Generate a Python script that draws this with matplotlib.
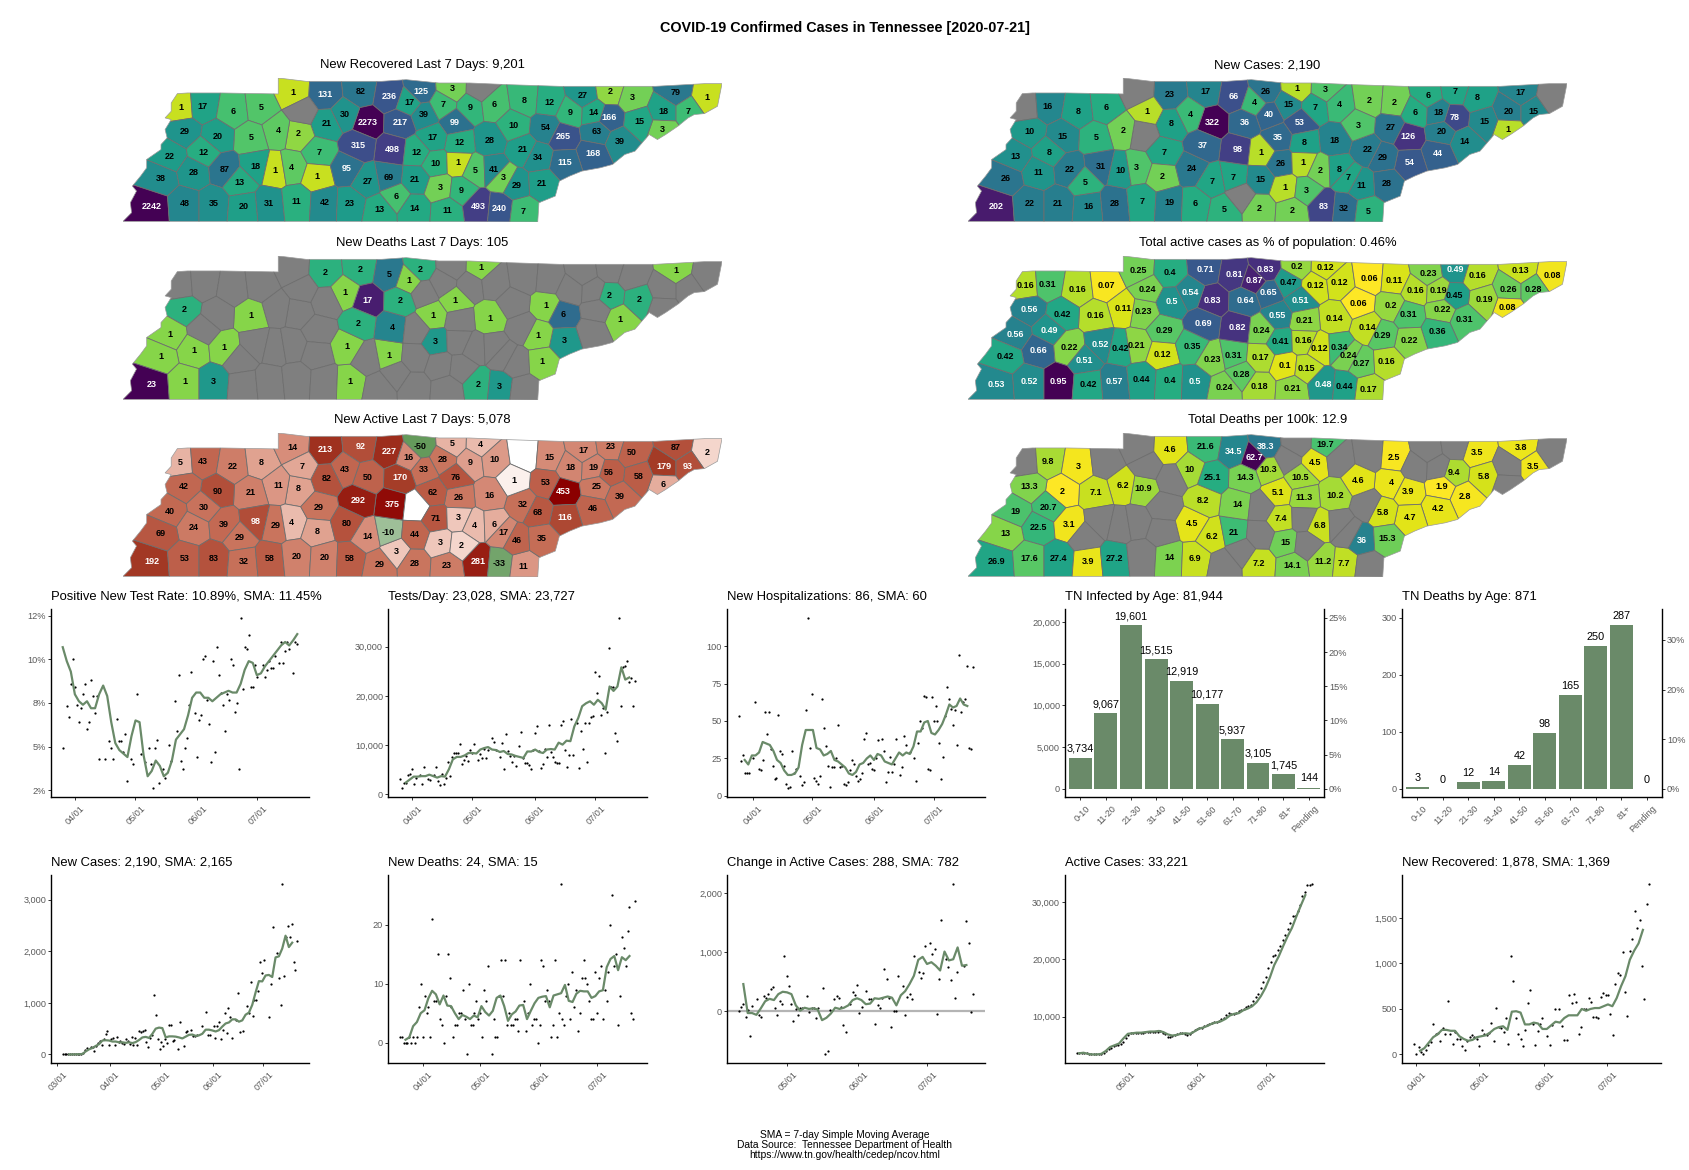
import numpy as np
import pandas as pd
import matplotlib
matplotlib.use('Agg')
import matplotlib.pyplot as plt
import matplotlib.dates as mdates
from matplotlib.collections import PolyCollection
from matplotlib.colors import LinearSegmentedColormap, LogNorm, Normalize
from matplotlib.patches import Polygon
from matplotlib.ticker import FuncFormatter
from matplotlib.transforms import ScaledTranslation

plt.rcParams['font.family'] = ['Liberation Sans', 'DejaVu Sans']

N = np.nan
W, H = 1690, 1170
GREEN = '#6a8a69'

# state outline and county label spots, in map units
outline_x = [190, 215, 300, 437, 437, 505, 600, 690, 750, 830, 905, 1000, 1125, 1360, 1480, 1523, 1512, 1480, 1455,
             1440, 1415, 1385, 1365, 1345, 1310, 1285, 1255, 1225, 1180, 1150, 1125, 1115, 1075, 1072, 600, 170, 57,
             78, 75, 90, 80, 100, 115, 115, 150, 150, 165, 160, 175, 160, 175, 175, 190]
outline_y = [162, 160, 160, 163, 115, 125, 125, 125, 120, 130, 130, 135, 140, 140, 132, 132, 200, 222, 225,
             235, 260, 285, 300, 285, 335, 345, 375, 385, 395, 410, 425, 470, 490, 548, 546, 546, 546,
             520, 490, 455, 440, 410, 385, 360, 330, 315, 295, 270, 240, 235, 215, 190, 162]

counties = ['Lake', 'Obion', 'Weakley', 'Henry', 'Stewart', 'Montgomery', 'Robertson', 'Sumner', 'Macon', 'Clay',
            'Pickett', 'Jackson', 'Overton', 'Fentress', 'Scott', 'Campbell', 'Claiborne', 'Hancock', 'Hawkins', 'Sullivan',
            'Johnson', 'Carter', 'Washington', 'Unicoi', 'Greene', 'Hamblen', 'Grainger', 'Union', 'Anderson', 'Knox',
            'Jefferson', 'Cocke', 'Sevier', 'Blount', 'Loudon', 'Roane', 'Morgan', 'Cumberland', 'Putnam', 'White',
            'DeKalb', 'Smith', 'Trousdale', 'Wilson', 'Davidson', 'Cheatham', 'Dickson', 'Humphreys', 'Houston', 'Benton',
            'Carroll', 'Gibson', 'Dyer', 'Crockett', 'Lauderdale', 'Haywood', 'Tipton', 'Madison', 'Henderson', 'Decatur',
            'Perry', 'Hickman', 'Lewis', 'Chester', 'Shelby', 'Fayette', 'Hardeman', 'McNairy', 'Hardin', 'Wayne',
            'Lawrence', 'Giles', 'Lincoln', 'Moore', 'Franklin', 'Marion', 'Hamilton', 'Bradley', 'Polk', 'Maury',
            'Marshall', 'Bedford', 'Rutherford', 'Williamson', 'Cannon', 'Warren', 'Coffee', 'Van Buren', 'Bledsoe', 'Grundy',
            'Sequatchie', 'Rhea', 'Meigs', 'McMinn', 'Monroe']
county_x = [198, 252, 326, 395, 473, 551, 638, 708, 785, 862,
            932, 840, 907, 965, 1040, 1100, 1183, 1250, 1303, 1410,
            1487, 1440, 1380, 1378, 1320, 1247, 1208, 1152, 1092, 1135,
            1217, 1273, 1207, 1138, 1072, 1035, 1013, 955, 870, 880,
            815, 793, 757, 735, 655, 600, 555, 485, 495, 436,
            370, 288, 207, 255, 172, 230, 149, 305, 382, 430,
            470, 537, 532, 343, 127, 208, 278, 352, 415, 482,
            550, 612, 685, 725, 770, 850, 927, 978, 1037, 605,
            655, 707, 717, 632, 775, 822, 772, 878, 918, 833,
            885, 965, 987, 1020, 1082]
county_y = [205, 200, 215, 205, 160, 165, 155, 170, 155, 148,
            150, 195, 203, 195, 182, 188, 167, 155, 175, 158,
            175, 215, 215, 270, 245, 235, 220, 218, 265, 292,
            277, 307, 343, 370, 353, 330, 257, 302, 248, 310,
            295, 225, 190, 250, 248, 225, 252, 282, 215, 272,
            295, 290, 275, 338, 350, 398, 418, 390, 380, 393,
            385, 340, 410, 428, 500, 493, 493, 500, 493, 485,
            490, 493, 510, 470, 507, 513, 500, 506, 515, 388,
            425, 413, 330, 317, 338, 372, 420, 370, 392, 445,
            452, 390, 415, 437, 433]

recovered_7d = [1, 17, 6, 5, 1, 131, 82, 236, 125, 3,
                N, 7, 9, 6, 8, 12, 27, 2, 3, 79,
                1, 7, 18, 3, 15, 166, 14, 9, 54, 265,
                63, 39, 168, 115, 34, 21, 10, 28, 99, 12,
                17, 39, 17, 217, 2273, 30, 21, 2, N, 4,
                5, 20, 29, 12, 22, 28, 38, 87, 18, 1,
                4, 7, 1, 13, 2242, 48, 35, 20, 31, 11,
                42, 23, 13, 6, 14, 11, 493, 240, 7, 95,
                27, 69, 498, 315, 12, 10, 21, 1, 5, 3,
                9, 41, 3, 29, 21]
deaths_7d = [N, N, N, N, N, 2, 2, 5, 2, N,
             1, N, N, N, N, N, N, N, N, 1,
             N, N, N, N, 2, 2, N, N, 1, 6,
             N, 1, N, 3, 1, N, N, 1, 1, N,
             1, N, 1, 2, 17, 1, N, N, N, N,
             1, N, 2, N, 1, 1, 1, 1, N, N,
             N, N, N, N, 23, 1, 3, N, N, N,
             N, 1, N, N, N, N, 2, 3, N, 1,
             N, 1, 4, 2, N, 3, N, N, N, N,
             N, N, N, N, 1]
active_7d = [5, 43, 22, 8, 14, 213, 92, 227, -50, 5,
             4, 28, 9, 10, N, 15, 17, 23, 50, 87,
             2, 93, 179, 6, 58, 56, 19, 18, 53, 453,
             25, 39, 46, 116, 68, 32, 1, 16, 76, 26,
             62, 33, 16, 170, 50, 43, 82, 8, 7, 11,
             21, 90, 42, 30, 40, 24, 69, 39, 98, 29,
             4, 29, 8, 29, 192, 53, 83, 32, 58, 20,
             20, 58, 29, 3, 28, 23, 281, -33, 11, 80,
             14, -10, 375, 292, N, 71, 44, 3, 4, 3,
             2, 6, 17, 46, 35]
new_cases = [N, 16, 8, 6, N, 23, 17, 66, 26, 1,
             3, 15, 7, 4, 2, 2, 6, 7, 8, 17,
             N, 15, 20, 1, 15, 78, 18, 6, 27, 126,
             20, 14, 44, 54, 29, 22, 3, 18, 53, 8,
             35, 40, 4, 36, 322, 4, 8, N, 1, 2,
             5, 15, 10, 8, 13, 11, 26, 22, 31, 10,
             3, 7, 2, 5, 202, 22, 21, 16, 28, 7,
             19, 6, 5, N, 2, 2, 83, 32, 5, 24,
             7, 7, 98, 37, 1, 26, 15, 1, 2, 1,
             3, 8, 7, 11, 28]
active_pct = [.16, .31, .16, .07, .25, .4, .71, .81, .83, .2,
              .12, .47, .12, .12, .06, .11, .23, .49, .16, .13,
              .08, .28, .26, .08, .19, .45, .19, .16, .2, .31,
              .22, .31, .36, .22, .29, .14, .06, .14, .51, .21,
              .55, .65, .87, .64, .83, .54, .5, .23, .24, .11,
              .16, .42, .56, .49, .56, .66, .42, .22, .52, .42,
              .21, .29, .12, .51, .53, .52, .95, .42, .57, .44,
              .4, .5, .24, .28, .18, .21, .48, .44, .17, .35,
              .23, .31, .82, .69, .24, .41, .17, .16, .12, .1,
              .15, .34, .24, .27, .16]
deaths_100k = [N, 9.8, 3, N, N, 4.6, 21.6, 34.5, 38.3, N,
               19.7, N, 4.5, N, N, 2.5, N, N, 3.5, 3.8,
               N, 3.5, N, N, 5.8, 9.4, N, N, 4, 3.9,
               1.9, 2.8, 4.2, 4.7, 5.8, N, 4.6, 10.2, 10.5, 11.3,
               5.1, 10.3, 62.7, 14.3, 25.1, 10, N, 10.9, N, 6.2,
               7.1, 2, 13.3, 20.7, 19, 22.5, 13, 3.1, N, N,
               N, N, N, N, 26.9, 17.6, 27.4, 3.9, 27.2, N,
               14, 6.9, N, N, 7.2, 14.1, 11.2, 7.7, N, 4.5,
               6.2, 21, 14, 8.2, N, 7.4, N, N, 6.8, 15,
               N, N, N, 36, 15.3]

# daily points and the moving average
rate = [4.9, N, 7.3, 6.7, 8.6, 10.0, 8.4, 7.4, 6.4, 7.2, 8.0, 8.6, 6.0, 6.4, 8.8, 7.9, 6.9, 7.9, 4.3, N, N, 4.3, N, 5.3,
        4.9, 4.3, N, 6.6, 5.3, 5.3, 4.7, 5.7, 3.0, N, 4.3, 4.0, N, 8.0, N, 4.6, N, 4.1, N, 4.9, 4.0, 2.6, 4.9, 5.4, 2.9,
        N, 3.7, 3.2, N, 5.1, 4.2, N, 7.6, 5.9, 9.1, 4.2, 3.7, 4.9, 5.5, 7.4, 9.3, N, 6.9, 4.4, 6.5, 6.8, 10.0, 10.2, 7.7,
        6.3, 4.1, 9.9, 4.7, 10.7, 9.1, 8.1, 7.4, 5.9, 8.0, 7.7, 10.0, 9.7, 7.0, 7.5, 3.7, 12.4, 8.3, 10.7, 10.6, 11.4,
        8.4, 8.4, 9.7, 9.0, N, N, 9.7, 9.0, 9.4, 9.9, 9.5, 9.5, 10.2, N, 9.8, 11.0, 9.8, 10.5, 11.0, 10.6, N, 9.2, 11.0, 10.89]
rate_sma = [10.7, 9.9, 9.3, 8.0, 7.6, 7.4, 7.6, 7.2, 7.2, 8.0, 8.5, 7.9, 6.4, 5.2, 4.8, 4.6, 4.4, 5.6, 6.5, 6.4, 4.5, 3.3,
            3.6, 4.2, 3.9, 3.3, 3.5, 4.2, 5.4, 5.7, 6.0, 6.8, 7.8, 8.1, 8.1, 7.8, 7.8, 7.6, 7.8, 8.0, 8.1, 8.2, 8.1, 8.1,
            8.6, 9.4, 9.9, 9.8, 9.1, 9.2, 9.6, 9.9, 10.2, 10.5, 10.8, 11.0, 10.8, 11.1, 11.45]
tests_k = [3.2, 1.2, 2.3, 2.3, 4.0, 4.1, 5.2, 2.2, 3.4, N, 4.0, 2.1, 5.6, N, 3.2, 3.0, N, 4.0, 5.5, 2.7, 2.0, 4.2, 2.2, 3.3,
           6.6, 3.7, 7.6, 8.3, 8.3, 8.3, 10.2, 6.2, 7.0, 7.8, 6.7, 9.1, 8.4, 10.2, N, 6.9, 8.1, 7.4, 9.2, 7.4, 9.1, N, 11.5,
           10.7, 9.1, N, 7.5, 10.5, 5.1, 12.3, 8.8, 7.8, 6.6, 7.8, 5.7, 9.9, 12.7, 7.3, 6.3, 6.4, 6.0, 5.1, 9.1, 12.5, 13.8,
           8.8, 5.4, 6.1, 9.2, 7.5, 14.1, 8.6, 7.5, 6.5, 6.3, 6.3, 14.0, 14.8, 9.1, 5.6, 7.9, 15.2, 7.9, N, 14.5, 5.4, 12.9,
           9.3, 14.4, 6.5, 14.4, 15.8, 16.0, 24.8, 20.6, 24.1, 16.2, 17.5, 8.4, 16.7, 29.8, 21.8, 21.8, 12.5, 10.9, 35.9,
           17.9, 25.8, 26.1, 27.0, 22.9, 23.6, 17.9, 23.028]
tests_sma_k = [2.4, 3.0, 3.6, 3.6, 3.7, 3.7, 4.0, 3.7, 3.4, 3.7, 3.6, 5.1, 7.1, 7.6, 7.6, 7.9, 8.4, 8.4, 8.3, 9.1, 9.4, 9.6,
               9.1, 9.0, 8.6, 8.8, 8.2, 8.1, 7.8, 7.6, 7.4, 8.7, 8.7, 9.1, 8.6, 8.4, 9.1, 9.2, 9.1, 10.5, 10.1, 10.9, 10.8,
               13.8, 15.5, 17.9, 18.5, 18.9, 18.2, 19.2, 18.5, 17.2, 21.9, 21.0, 21.9, 25.8, 23.3, 23.727]
hosp = [53, 23, 27, 15, 15, 15, N, 25, 63, N, 18, 17, 24, 56, 41, 56, 31, 20, 11, 12, 54, 30, 28, 20, 8, 5, 6, 30, 15, 18, N,
        13, 7, 9, 57, 119, 32, 68, 12, 10, 8, 13, 65, 45, 33, 20, 6, 19, 19, 25, 47, 19, 20, 8, 7, 9, 17, 24, 21, 13, 10, 11,
        15, 38, 42, 21, 22, 18, 17, 25, 37, N, 38, 30, 9, 16, 26, 16, 21, 38, N, 14, 19, 40, 34, N, 29, N, 25, 10, 35, 50, 45,
        67, 66, 18, 17, 66, 50, 60, 50, 35, 11, 26, 53, 73, 65, 58, 47, 57, 34, 94, 56, 63, 65, 87, 32, 31, 86]
hosp_sma = [24, 21, 27, 27, 29, 36, 35, 34, 30, 24, 22, 17, 14, 14, 15, 19, 34, 44, 44, 44, 32, 31, 27, 28, 30, 24, 23, 21,
            19, 15, 14, 16, 21, 22, 25, 27, 24, 28, 27, 23, 22, 21, 25, 29, 27, 29, 28, 33, 43, 43, 49, 50, 42, 41, 44, 48,
            54, 61, 59, 60, 65, 61, 60]
infected_ages = [3734, 9067, 19601, 15515, 12919, 10177, 5937, 3105, 1745, 144]
death_ages = [3, 0, 12, 14, 42, 98, 165, 250, 287, 0]
age_labels = ['0-10', '11-20', '21-30', '31-40', '41-50', '51-60', '61-70', '71-80', '81+', 'Pending']
cases = [N, N, 1, 1, 1, 2, 3, 3, 3, 5, 7, 8, 10, 30, 80, 130, N, 150, 150, 60, 160, 225, 260, 175, 300, 405, 450, 175, 300, 320,
         175, 340, 240, 265, 225, 210, 300, 265, 200, 335, 175, 320, 175, 450, 430, 455, 475, 250, 150, 320, 370, 1155, 770,
         290, 115, 250, 160, 300, 225, 565, 580, 265, 275, N, 110, 630, N, 160, 435, 445, N, 470, 355, 355, 385, N, N, 545, N,
         830, 385, 385, N, 545, 320, 560, 635, 290, 475, 800, 415, 900, 725, 320, N, 675, 1190, 435, N, 445, N, 930, 800, 1405,
         740, 1060, 1060, 1220, 1800, 1570, 1825, N, N, 720, 1360, 2465, N, 1960, 1475, 960, 3310, 1520, 2280, 2485, 2280, 2525,
         1785, 1640, 2190]
cases_sma = [0, 1, 3, 4, 10, 60, 100, 125, 165, 200, 270, 275, 270, 250, 250, 235, 235, 225, 235, 220, 240, 280, 330, 340, 320,
             400, 500, 520, 510, 330, 350, 350, 345, 330, 310, 345, 380, 385, 360, 370, 400, 480, 480, 465, 445, 470, 540, 600,
             620, 680, 680, 635, 660, 770, 810, 960, 1200, 1420, 1415, 1530, 1540, 1500, 1880, 1900, 2050, 2300, 2080, 2165]
deaths = [1, 1, 0, 0, 0, 1, 0, 1, 0, 1, 6, 10, 1, 8, 5, 6, 1, 21, 7, 7, 15, 4, 3, 0, 8, 15, 11, 6, 1, 3, 3, 5, 5, 9, 4, -2, 10,
          3, 3, 5, 7, 4, 5, 1, 9, 7, 13, N, -2, 4, 1, 1, 8, 14, 8, 14, 3, 5, 3, 3, 4, 4, 2, 14, N, 7, 2, 5, 10, 3, 4, 4, 0, 3, 14, 13,
          7, 9, 7, 1, 3, 14, 1, 5, 27, 4, 3, 8, 10, 4, 12, 6, 9, 2, 5, 11, 14, 11, 10, 7, 4, 4, 12, 5, 11, 13, 4, 9, 7, 12, 20, 25,
          13, 15, 3, 8, 18, 16, 13, 19, 23, 5, 4, 24]
deaths_sma = [.5, .9, 2.8, 3.5, 5, 5.5, 7.5, 8.8, 8.2, 6.5, 8, 6.3, 6.2, 5, 4, 4.7, 4.4, 4, 4.6, 4.3, 6.2, 5.2, 4.6, 5.4, 7.6, 8,
              6.2, 3.7, 4.8, 5.3, 6.3, 6.4, 4, 5.4, 6.7, 7.6, 7.8, 7.9, 6, 8, 8.2, 8.4, 9.8, 7.1, 6.9, 8.3, 8.8, 8.7, 8.7, 7.6,
              7.9, 8.7, 8.9, 12.8, 14.2, 14.7, 12.3, 14.5, 14.0, 14.7]
change = [10, 70, 130, -100, 20, -420, 90, N, 200, -70, -100, 250, 220, 290, 370, 410, 50, -70, 170, 120, 940, 600, 420, 120, -160,
          40, -60, 60, 50, N, 250, -10, 50, 50, -120, 60, N, 390, -730, -680, 30, N, 200, 250, 220, 80, -240, -350, N, 120, 320, 270,
          450, -30, 70, N, 340, 200, 210, N, -210, 100, 50, 230, 720, 550, 230, -270, 0, 0, 600, N, 430, -60, 240, 300, 200, 930,
          N, 660, 570, 650, 1110, N, 1160, 970, 1060, -50, 540, 1550, N, 880, 750, 530, 2160, 220, 670, N, N, 770, 1520, 1150, -20, 288]
change_sma = [460, -30, -30, -60, 50, 170, 210, 190, 290, 330, 320, 290, 100, 10, 60, 40, 50, 30, -150, -110, -40, 60, 40, 60, 100,
              190, 220, 190, 120, 130, 220, 210, 230, 250, 230, 100, 270, 340, 460, 600, 870, 920, 800, 830, 770, 690, 1010, 860,
              880, 1080, 770, 782]
active_k = [3.6, 3.6, 3.7, 3.7, 3.7, 3.5, 3.4, 3.4, 3.4, 3.4, 3.5, 3.7, 4.0, 4.3, 4.6, 4.9, 5.0, 5.0, 5.2, 5.6, 6.2, 6.8, 7.1, 7.1,
            7.1, 7.2, 7.2, 7.2, 7.3, 7.3, 7.4, 7.4, 7.4, 7.4, 7.5, 7.2, 6.9, 6.5, 6.5, 6.6, 6.8, 7.0, 7.1, 7.2, 6.9, 6.8, 7.0, 7.3,
            7.6, 7.9, 8.0, 8.1, 8.3, 8.5, 8.7, 8.9, 9.0, 9.1, 9.2, 9.5, 9.8, 10.3, 10.6, 10.5, 10.4, 10.7, 11.0, 11.1, 11.4, 11.6,
            11.8, 12.1, 12.7, 13.4, 14.0, 15.0, 16.0, 17.0, 18.4, 19.5, 20.6, 20.8, 21.7, 22.4, 23.4, 24.2, 25.3, 26.3, 27.5, 27.5,
            28.4, 29.5, 31.0, 31.8, 32.9, 33.0, 33.221]
active_sma_k = [3.6, 3.7, 3.5, 3.4, 3.4, 3.5, 4.0, 4.7, 5.0, 5.3, 6.2, 7.0, 7.1, 7.2, 7.2, 7.3, 7.4, 7.4, 7.5, 7.3, 6.9, 6.7, 6.8,
                7.0, 7.1, 7.0, 7.4, 7.9, 8.1, 8.4, 8.8, 9.0, 9.2, 9.6, 10.2, 10.5, 10.6, 11.1, 11.4, 11.8, 12.5, 13.6, 15.0, 16.8,
                19.0, 20.5, 22.3, 24.0, 25.5, 27.5, 29.4, 31.2]
recovered = [120, 10, 80, 30, 0, 50, 100, 140, 330, 220, 240, 150, 290, 230, 590, 230, 110, 250, 170, 170, 90, 50, 150, 190, 210,
             190, 170, 90, 270, 220, 210, 240, 350, 150, 510, 300, 290, 250, 400, 120, 1080, 810, 400, 230, 170, 90, 270, 570, 710,
             330, 100, 260, 330, 400, N, 200, 100, 320, 500, N, 500, 310, 160, 160, 650, 570, 660, 580, 230, 300, 500, 500, 620, 580,
             410, 410, 400, 630, 680, 650, 650, 450, 210, 770, 900, 870, 1130, 690, 420, 1140, 1270, 1580, 1390, 1480, 970, 610, 1650, 1878]
recovered_sma = [40, 70, 130, 190, 220, 270, 270, 260, 260, 200, 170, 150, 160, 190, 200, 210, 240, 280, 300, 310, 270, 470, 475,
                 460, 330, 330, 350, 340, 280, 280, 320, 360, 350, 400, 430, 430, 430, 500, 480, 500, 510, 510, 530, 550, 530,
                 620, 750, 860, 1040, 1140, 1220, 1369]


def px_axes(fig, left, top, right, bottom):
    # axes from pixel edges of the final image
    return fig.add_axes([left / W, 1 - bottom / H, (right - left) / W, (bottom - top) / H])


def voronoi_cells(x, y):
    # one convex cell per county, cut down from the bounding box
    xs, ys = np.array(x) / 2.45, np.array(y) / 3.0
    box = [(0, 0), (700, 0), (700, 250), (0, 250)]
    cells = []
    for i in range(len(xs)):
        poly = box
        for j in range(len(xs)):
            if i == j:
                continue
            mx, my = (xs[i] + xs[j]) / 2, (ys[i] + ys[j]) / 2
            nx, ny = xs[j] - xs[i], ys[j] - ys[i]
            out = []
            for k in range(len(poly)):
                a, b = poly[k], poly[(k + 1) % len(poly)]
                da = (a[0] - mx) * nx + (a[1] - my) * ny
                db = (b[0] - mx) * nx + (b[1] - my) * ny
                if da <= 0:
                    out.append(a)
                if da * db < 0:
                    t = da / (da - db)
                    out.append((a[0] + t * (b[0] - a[0]), a[1] + t * (b[1] - a[1])))
            poly = out
        cells.append(np.array(poly) * [2.45, 3.0])
    return cells


cells = voronoi_cells(county_x, county_y)
reds = LinearSegmentedColormap.from_list('reds', ['#fbf0ec', '#f2cfc4', '#e5ae9e', '#d78e7b', '#c66f58', '#b5533e', '#a33a25', '#8b0000'])
greens = LinearSegmentedColormap.from_list('greens', ['#f0f5ee', '#649a5b'])


def active_colour(v):
    if np.isnan(v):
        return 'white'
    if v < 0:
        return greens(np.log(-v) / np.log(50))
    return reds(np.log(v) / np.log(453))


def draw_map(fig, box, title, values, vmin=None, white_from=92, missing='#7f7f7f', diverging=False, linear=False):
    ax = px_axes(fig, *box)
    ax.set_xlim(57, 1523)
    ax.set_ylim(548, 115)
    ax.axis('off')
    vals = np.array(values, dtype=float)
    if diverging:
        colours = [active_colour(v) for v in vals]
    else:
        norm = Normalize(vmin, np.nanmax(vals)) if linear else LogNorm(vmin, np.nanmax(vals))
        cmap = plt.get_cmap('viridis_r')
        colours = [missing if np.isnan(v) else cmap(norm(v)) for v in vals]
    pc = PolyCollection(cells, facecolors=colours, edgecolors='#6e6e6e', linewidths=0.6)
    ax.add_collection(pc)
    shape = Polygon(np.column_stack([outline_x, outline_y]), closed=True, transform=ax.transData, fill=False, edgecolor='#9a9a9a', linewidth=0.5)
    ax.add_patch(shape)
    pc.set_clip_path(shape)
    for cx, cy, v in zip(county_x, county_y, vals):
        if np.isnan(v):
            continue
        ax.text(cx, cy, f'{v:g}', ha='center', va='center', fontsize=6.5, fontweight='bold',
                color='white' if v >= white_from else 'black')
    fig.text((box[0] + box[2]) / 2 / W, 1 - (box[1] - 13) / H, title, ha='center', va='center', fontsize=9.4)


def style_axes(ax, title):
    for side in ['top', 'right']:
        ax.spines[side].set_visible(False)
    for side in ['left', 'bottom']:
        ax.spines[side].set_linewidth(1.0)
    ax.tick_params(axis='both', labelsize=6.6, labelcolor='#5a5a5a', length=2, width=0.7, color='#333333', pad=1.5)
    ax.tick_params(axis='x', pad=3)
    ax.set_title(title, loc='left', fontsize=9.4, pad=6.5, x=0)
    ax.patch.set_alpha(0)
    # rotated labels sit a little to the right of the tick
    shift = ScaledTranslation(4 / 72, 0, ax.figure.dpi_scale_trans)
    for label in ax.get_xticklabels():
        label.set_rotation(45)
        label.set_ha('right')
        label.set_rotation_mode('anchor')
        label.set_transform(label.get_transform() + shift)


def draw_series(fig, box, title, values, start, sma, sma_start, sma_end, yticks, ylabels=None, scale=1, end='2020-07-21', zero_line=False):
    ax = px_axes(fig, *box)
    days = pd.date_range(start, end, periods=len(values))
    sma_days = pd.date_range(sma_start, sma_end, periods=len(sma))
    vals = np.array(values, dtype=float) * scale
    if zero_line:
        ax.axhline(0, color='#b4b4b4', linewidth=1.6, zorder=1)
    ax.scatter(days, vals, s=2.6, color='black', linewidths=0, zorder=2)
    ax.plot(sma_days, np.array(sma) * scale, color=GREEN, linewidth=1.6, zorder=3)
    ax.margins(x=0.05, y=0.05)
    ax.xaxis.set_major_locator(mdates.MonthLocator())
    ax.xaxis.set_major_formatter(mdates.DateFormatter('%m/%d'))
    ax.set_yticks(yticks)
    if ylabels is None:
        ax.yaxis.set_major_formatter(FuncFormatter(lambda v, p: f'{v:,.0f}'))
    else:
        ax.set_yticklabels(ylabels)
    fig.canvas.draw()
    style_axes(ax, title)
    return ax


def draw_ages(fig, box, title, values, left_ticks, right_ticks):
    ax = px_axes(fig, *box)
    total = sum(values)
    top = max(values)
    xs = np.arange(len(values))
    ax.bar(xs, values, width=0.9, color=GREEN)
    for x, v in zip(xs, values):
        ax.annotate(f'{v:,}', (x, v), xytext=(0, 3), textcoords='offset points', ha='center', va='bottom', fontsize=7.8)
    ax.set_xlim(-0.6, len(values) - 0.4)
    ax.set_ylim(-0.05 * top, 1.1 * top)
    ax.set_xticks(xs)
    ax.set_xticklabels(age_labels)
    ax.set_yticks(left_ticks)
    ax.yaxis.set_major_formatter(FuncFormatter(lambda v, p: f'{v:,.0f}'))
    style_axes(ax, title)
    sec = ax.secondary_yaxis('right', functions=(lambda v: v / total * 100, lambda p: p * total / 100))
    sec.set_yticks(right_ticks)
    sec.yaxis.set_major_formatter(FuncFormatter(lambda v, p: f'{v:.0f}%'))
    sec.tick_params(labelsize=6.6, labelcolor='#5a5a5a', length=2, width=0.7, color='#333333', pad=1.5)
    sec.spines['right'].set_linewidth(1.0)


fig = plt.figure(figsize=(W / 100, H / 100), dpi=100)
fig.text(845 / W, 1 - 28 / H, 'COVID-19 Confirmed Cases in Tennessee [2020-07-21]', ha='center', va='center', fontsize=10.4, fontweight='bold')

draw_map(fig, (123, 78, 722, 222), 'New Recovered Last 7 Days: 9,201', recovered_7d, vmin=0.5, white_from=92)
draw_map(fig, (123, 256, 722, 400), 'New Deaths Last 7 Days: 105', deaths_7d, vmin=0.5, white_from=10)
draw_map(fig, (123, 433, 722, 577), 'New Active Last 7 Days: 5,078', active_7d, white_from=92, diverging=True)
draw_map(fig, (968, 78, 1567, 222), 'New Cases: 2,190', new_cases, vmin=0.5, white_from=33)
draw_map(fig, (968, 256, 1567, 400), 'Total active cases as % of population: 0.46%', active_pct, vmin=0.06, white_from=0.48, linear=True)
draw_map(fig, (968, 433, 1567, 577), 'Total Deaths per 100k: 12.9', deaths_100k, vmin=1.9, white_from=30, linear=True)

top_row = (609, 797)
low_row = (875, 1063)
draw_series(fig, (51, top_row[0], 309, top_row[1]), 'Positive New Test Rate: 10.89%, SMA: 11.45%', rate, '2020-03-26',
            rate_sma, '2020-03-26', '2020-07-21', [2.5, 5, 7.5, 10, 12.5], ['2%', '5%', '8%', '10%', '12%'])
draw_series(fig, (388, top_row[0], 647, top_row[1]), 'Tests/Day: 23,028, SMA: 23,727', tests_k, '2020-03-26',
            tests_sma_k, '2020-03-29', '2020-07-18', [0, 10000, 20000, 30000], scale=1000)
draw_series(fig, (727, top_row[0], 985, top_row[1]), 'New Hospitalizations: 86, SMA: 60', hosp, '2020-03-25',
            hosp_sma, '2020-03-28', '2020-07-18', [0, 25, 50, 75, 100])
draw_ages(fig, (1065, top_row[0], 1324, top_row[1]), 'TN Infected by Age: 81,944', infected_ages, [0, 5000, 10000, 15000, 20000], [0, 5, 10, 15, 20, 25])
draw_ages(fig, (1402, top_row[0], 1662, top_row[1]), 'TN Deaths by Age: 871', death_ages, [0, 100, 200, 300], [0, 10, 20, 30])

draw_series(fig, (51, low_row[0], 309, low_row[1]), 'New Cases: 2,190, SMA: 2,165', cases, '2020-03-02',
            cases_sma, '2020-03-08', '2020-07-18', [0, 1000, 2000, 3000])
draw_series(fig, (388, low_row[0], 647, low_row[1]), 'New Deaths: 24, SMA: 15', deaths, '2020-03-20',
            deaths_sma, '2020-03-23', '2020-07-18', [0, 10, 20])
draw_series(fig, (727, low_row[0], 985, low_row[1]), 'Change in Active Cases: 288, SMA: 782', change, '2020-04-10',
            change_sma, '2020-04-12', '2020-07-18', [0, 1000, 2000], zero_line=True)
draw_series(fig, (1065, low_row[0], 1324, low_row[1]), 'Active Cases: 33,221', active_k, '2020-04-10',
            active_sma_k, '2020-04-11', '2020-07-18', [10000, 20000, 30000], scale=1000)
draw_series(fig, (1402, low_row[0], 1661, low_row[1]), 'New Recovered: 1,878, SMA: 1,369', recovered, '2020-03-31',
            recovered_sma, '2020-04-03', '2020-07-18', [0, 500, 1000, 1500])

fig.text(845 / W, 1 - 1145 / H, 'SMA = 7-day Simple Moving Average\nData Source:  Tennessee Department of Health\nhttps://www.tn.gov/health/cedep/ncov.html',
         ha='center', va='center', fontsize=7.4, linespacing=0.95)

fig.savefig('out.png', dpi=100)
